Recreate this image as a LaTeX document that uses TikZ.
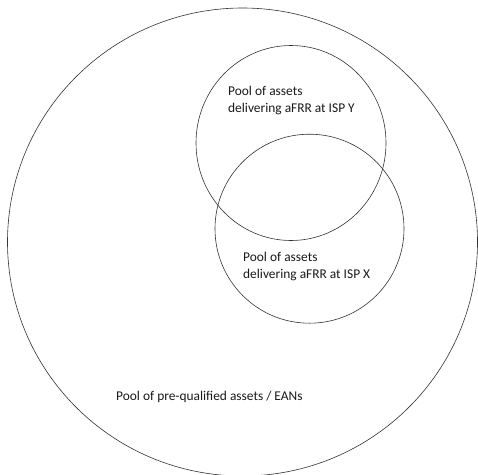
\documentclass[tikz,border=0pt]{standalone}
\usepackage{fontspec}
\setmainfont{Carlito}
\usetikzlibrary{shapes.geometric}
\tikzset{
  pool/.style={draw=black!80, line width=0.6pt, ellipse, inner sep=0pt},
  lbl/.style={anchor=west, inner sep=0pt, align=left, font=\fontsize{13.4}{17.5}\selectfont, text=black!90}
}
\begin{document}
\begin{tikzpicture}[x=1pt,y=-1pt]
\useasboundingbox (0,0) rectangle (478,474);
\clip (0,0) rectangle (478,474);
\fill[white] (0,0) rectangle (478,474);
\node[pool, minimum width=470pt, minimum height=468pt] (all) at (242.5,242) {};
\node[pool, minimum width=190pt, minimum height=195pt] (ispy) at (291,143) {};
\node[pool, minimum width=189pt, minimum height=189pt] (ispx) at (309.5,228.7) {};
\node[lbl] (ty) at (228,100.5) {Pool of assets\\delivering aFRR at ISP Y};
\node[lbl] (tx) at (243,266.5) {Pool of assets\\delivering aFRR at ISP X};
\node[lbl] (tall) at (116,397) {Pool of pre-qualified assets / EANs};
\end{tikzpicture}
\end{document}
